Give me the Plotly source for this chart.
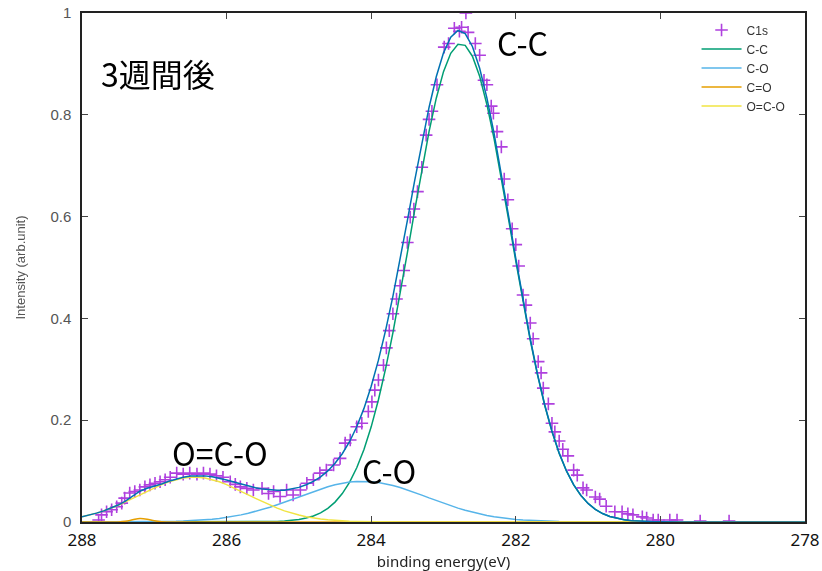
import plotly.graph_objects as go

# ---- measured C1s spectrum (binding energy eV, normalised intensity) ----
data_energy = [
    287.77, 287.73, 287.66, 287.59, 287.52, 287.45, 287.41, 287.34, 287.27, 287.20,
    287.13, 287.06, 286.99, 286.92, 286.85, 286.78, 286.69, 286.60, 286.51, 286.41,
    286.32, 286.23, 286.14, 286.05, 285.95, 285.88, 285.81, 285.72, 285.63, 285.51,
    285.42, 285.35, 285.26, 285.17, 285.08, 284.98, 284.89, 284.80, 284.71, 284.62,
    284.52, 284.43, 284.36, 284.29, 284.20, 284.13, 284.04, 283.99, 283.95, 283.90,
    283.83, 283.79, 283.75, 283.70, 283.65, 283.60, 283.55, 283.50, 283.46, 283.41,
    283.36, 283.30, 283.24, 283.20, 283.16, 283.09, 282.99, 282.93, 282.85, 282.78,
    282.75, 282.69, 282.66, 282.56, 282.50, 282.44, 282.40, 282.34, 282.31, 282.26,
    282.20, 282.16, 282.11, 282.05, 282.00, 281.96, 281.90, 281.86, 281.80, 281.76,
    281.69, 281.65, 281.62, 281.55, 281.50, 281.46, 281.40, 281.35, 281.28, 281.20,
    281.15, 281.07, 281.02, 280.90, 280.84, 280.75, 280.63, 280.53, 280.45, 280.38,
    280.25, 280.19, 280.10, 280.03, 279.87, 279.77, 279.45, 279.05,
]
data_intensity = [
    0.004, 0.014, 0.020, 0.024, 0.030, 0.037, 0.047, 0.057, 0.060, 0.063,
    0.069, 0.073, 0.076, 0.079, 0.083, 0.088, 0.096, 0.094, 0.096, 0.094,
    0.096, 0.094, 0.091, 0.088, 0.079, 0.074, 0.069, 0.066, 0.063, 0.066,
    0.056, 0.060, 0.050, 0.063, 0.053, 0.063, 0.076, 0.083, 0.096, 0.102,
    0.112, 0.125, 0.155, 0.161, 0.187, 0.194, 0.217, 0.236, 0.259, 0.279,
    0.308, 0.342, 0.376, 0.409, 0.438, 0.464, 0.494, 0.549, 0.599, 0.615,
    0.649, 0.697, 0.760, 0.791, 0.807, 0.859, 0.933, 0.940, 0.970, 0.964,
    0.972, 1.000, 0.962, 0.940, 0.917, 0.868, 0.859, 0.817, 0.803, 0.767,
    0.737, 0.674, 0.633, 0.576, 0.545, 0.503, 0.446, 0.426, 0.391, 0.360,
    0.315, 0.293, 0.263, 0.232, 0.194, 0.177, 0.159, 0.143, 0.130, 0.102,
    0.092, 0.067, 0.063, 0.049, 0.045, 0.031, 0.020, 0.020, 0.016, 0.014,
    0.010, 0.008, 0.004, 0.004, 0.004, 0.004, 0.002, 0.002,
]

fit_energy = [
    288.0, 287.9, 287.8, 287.7, 287.6, 287.5, 287.4, 287.3, 287.2, 287.1,
    287.0, 286.9, 286.8, 286.7, 286.6, 286.5, 286.4, 286.3, 286.2, 286.1,
    286.0, 285.9, 285.8, 285.7, 285.6, 285.5, 285.4, 285.3, 285.2, 285.1,
    285.0, 284.9, 284.8, 284.7, 284.6, 284.5, 284.4, 284.3, 284.2, 284.1,
    284.0, 283.9, 283.8, 283.7, 283.6, 283.5, 283.4, 283.3, 283.2, 283.1,
    283.0, 282.9, 282.8, 282.7, 282.6, 282.5, 282.4, 282.3, 282.2, 282.1,
    282.0, 281.9, 281.8, 281.7, 281.6, 281.5, 281.4, 281.3, 281.2, 281.1,
    281.0, 280.9, 280.8, 280.7, 280.6, 280.5, 280.4, 280.3, 280.2, 280.1,
    280.0, 279.9, 279.8, 279.7, 278.0,
]
fit_cc = [
    0, 0, 0, 0, 0, 0, 0, 0, 0, 0,
    0, 0, 0, 0, 0, 0, 0, 0, 0, 0,
    0, 0, 0, 0, 0.0002, 0.0004, 0.0006, 0.0011, 0.0018, 0.0030,
    0.0048, 0.0077, 0.0119, 0.0180, 0.0268, 0.0391, 0.0558, 0.0779, 0.1065, 0.1426,
    0.1870, 0.2401, 0.3018, 0.3716, 0.4480, 0.5288, 0.6114, 0.6920, 0.7670, 0.8326,
    0.8848, 0.9208, 0.9384, 0.9364, 0.9151, 0.8756, 0.8203, 0.7527, 0.6762, 0.5948,
    0.5125, 0.4323, 0.3571, 0.2889, 0.2288, 0.1775, 0.1348, 0.1002, 0.0730, 0.0520,
    0.0363, 0.0248, 0.0166, 0.0109, 0.0070, 0.0044, 0.0027, 0.0016, 0.0010, 0.0006,
    0.0003, 0.0002, 0.0001, 0, 0,
]
fit_co = [
    0, 0, 0, 0, 0.0001, 0.0001, 0.0001, 0.0002, 0.0002, 0.0003,
    0.0005, 0.0007, 0.0010, 0.0013, 0.0018, 0.0024, 0.0032, 0.0043, 0.0055, 0.0071,
    0.0090, 0.0113, 0.0140, 0.0171, 0.0207, 0.0247, 0.0291, 0.0339, 0.0389, 0.0442,
    0.0496, 0.0550, 0.0601, 0.0650, 0.0694, 0.0732, 0.0762, 0.0784, 0.0797, 0.0800,
    0.0793, 0.0776, 0.0751, 0.0717, 0.0677, 0.0631, 0.0581, 0.0528, 0.0474, 0.0421,
    0.0369, 0.0319, 0.0273, 0.0230, 0.0192, 0.0158, 0.0129, 0.0104, 0.0082, 0.0064,
    0.0050, 0.0038, 0.0029, 0.0022, 0.0016, 0.0012, 0.0008, 0.0006, 0.0004, 0.0003,
    0.0002, 0.0001, 0, 0, 0, 0, 0, 0, 0, 0,
    0, 0, 0, 0, 0,
]
fit_c_eq_o = [
    0, 0, 0, 0, 0, 0.0002, 0.0013, 0.0042, 0.0069, 0.0056,
    0.0023, 0.0005, 0.0001, 0, 0, 0, 0, 0, 0, 0,
    0, 0, 0, 0, 0, 0, 0, 0, 0, 0,
    0, 0, 0, 0, 0, 0, 0, 0, 0, 0,
    0, 0, 0, 0, 0, 0, 0, 0, 0, 0,
    0, 0, 0, 0, 0, 0, 0, 0, 0, 0,
    0, 0, 0, 0, 0, 0, 0, 0, 0, 0,
    0, 0, 0, 0, 0, 0, 0, 0, 0, 0,
    0, 0, 0, 0, 0,
]
fit_oco = [
    0.0104, 0.0136, 0.0174, 0.0219, 0.0272, 0.0330, 0.0395, 0.0463, 0.0534, 0.0604,
    0.0672, 0.0735, 0.0789, 0.0832, 0.0863, 0.0878, 0.0878, 0.0863, 0.0832, 0.0789,
    0.0735, 0.0672, 0.0604, 0.0534, 0.0463, 0.0395, 0.0330, 0.0272, 0.0219, 0.0174,
    0.0136, 0.0104, 0.0078, 0.0058, 0.0042, 0.0030, 0.0021, 0.0014, 0.0010, 0.0006,
    0.0004, 0.0003, 0.0002, 0.0001, 0.0001, 0, 0, 0, 0, 0,
    0, 0, 0, 0, 0, 0, 0, 0, 0, 0,
    0, 0, 0, 0, 0, 0, 0, 0, 0, 0,
    0, 0, 0, 0, 0, 0, 0, 0, 0, 0,
    0, 0, 0, 0, 0,
]
fit_envelope = [
    0.0104, 0.0136, 0.0174, 0.0219, 0.0273, 0.0333, 0.0409, 0.0507, 0.0605, 0.0663,
    0.0700, 0.0747, 0.0800, 0.0845, 0.0881, 0.0902, 0.0910, 0.0906, 0.0887, 0.0860,
    0.0825, 0.0785, 0.0744, 0.0705, 0.0672, 0.0646, 0.0627, 0.0622, 0.0626, 0.0646,
    0.0680, 0.0731, 0.0798, 0.0888, 0.1004, 0.1153, 0.1341, 0.1577, 0.1872, 0.2232,
    0.2667, 0.3180, 0.3771, 0.4434, 0.5158, 0.5919, 0.6695, 0.7448, 0.8144, 0.8747,
    0.9217, 0.9527, 0.9657, 0.9594, 0.9343, 0.8914, 0.8332, 0.7631, 0.6844, 0.6012,
    0.5175, 0.4361, 0.3600, 0.2911, 0.2304, 0.1787, 0.1356, 0.1008, 0.0734, 0.0523,
    0.0365, 0.0249, 0.0166, 0.0109, 0.0070, 0.0044, 0.0027, 0.0016, 0.0010, 0.0006,
    0.0003, 0.0002, 0.0001, 0, 0,
]

x_ticks = [288, 286, 284, 282, 280, 278]
y_ticks = [0, 0.2, 0.4, 0.6, 0.8, 1]

fig = go.Figure()

fig.add_trace(go.Scatter(
    x=data_energy, y=data_intensity, mode="markers", name="C1s",
    marker=dict(symbol="cross-thin", size=9, color="#9400d3",
                line=dict(width=1.6, color="#9400d3")),
    opacity=0.75,
))

components = [
    ("C-C", fit_cc, "#009e73", "linear"),
    ("C-O", fit_co, "#56b4e9", "linear"),
    ("C=O", fit_c_eq_o, "#e69f00", "spline"),
    ("O=C-O", fit_oco, "#f0e442", "linear"),
]
for name, vals, color, shape in components:
    fig.add_trace(go.Scatter(
        x=fit_energy, y=vals, mode="lines", name=name,
        line=dict(color=color, width=1.5, shape=shape),
    ))

fig.add_trace(go.Scatter(
    x=fit_energy, y=fit_envelope, mode="lines", name="fit",
    showlegend=False, line=dict(color="#0072b2", width=1.5),
))

label_font = dict(family="Noto Sans CJK JP", size=32, color="#000")
for txt, xx, yy in [("3週間後", 286.95, 0.882), ("C-C", 281.91, 0.943),
                    ("O=C-O", 286.09, 0.137), ("C-O", 283.75, 0.103)]:
    fig.add_annotation(x=xx, y=yy, xref="x", yref="y", text=txt,
                       showarrow=False, font=label_font)

fig.update_layout(
    width=822, height=571,
    margin=dict(l=82, r=17, t=13, b=49),
    paper_bgcolor="white", plot_bgcolor="white",
    showlegend=True,
    legend=dict(x=0.98, y=0.995, xanchor="right", yanchor="top",
                font=dict(family="Liberation Sans", size=12, color="#333"),
                bgcolor="rgba(0,0,0,0)", itemwidth=40, tracegroupgap=0),
)
fig.update_xaxes(
    range=[288, 278], tickvals=x_ticks, ticks="inside", ticklen=6,
    tickcolor="#444", showline=True, linecolor="#222", linewidth=1.5,
    mirror="ticks", showgrid=False, zeroline=False, automargin=False,
    tickfont=dict(family="Noto Sans", size=17, color="#111"),
    ticklabelstandoff=2, ticklabeloverflow="allow",
    title=dict(text="binding energy(eV)", standoff=2,
               font=dict(family="Noto Sans", size=15, color="#222")),
)
fig.update_yaxes(
    range=[0, 1], tickvals=y_ticks, ticks="inside", ticklen=6,
    tickcolor="#444", showline=True, linecolor="#222", linewidth=1.5,
    mirror="ticks", showgrid=False, zeroline=False, automargin=False,
    tickfont=dict(family="Liberation Sans", size=15, color="#555"),
    ticklabelstandoff=6, ticklabeloverflow="allow",
    title=dict(text="Intensity (arb.unit)", standoff=22,
               font=dict(family="Liberation Sans", size=13, color="#555")),
)

# remove the browser's default 8 px page margin so the figure fills the window exactly
fig.write_html("out.html", config={"displayModeBar": False},
               post_script="document.body.style.margin='0px';")
